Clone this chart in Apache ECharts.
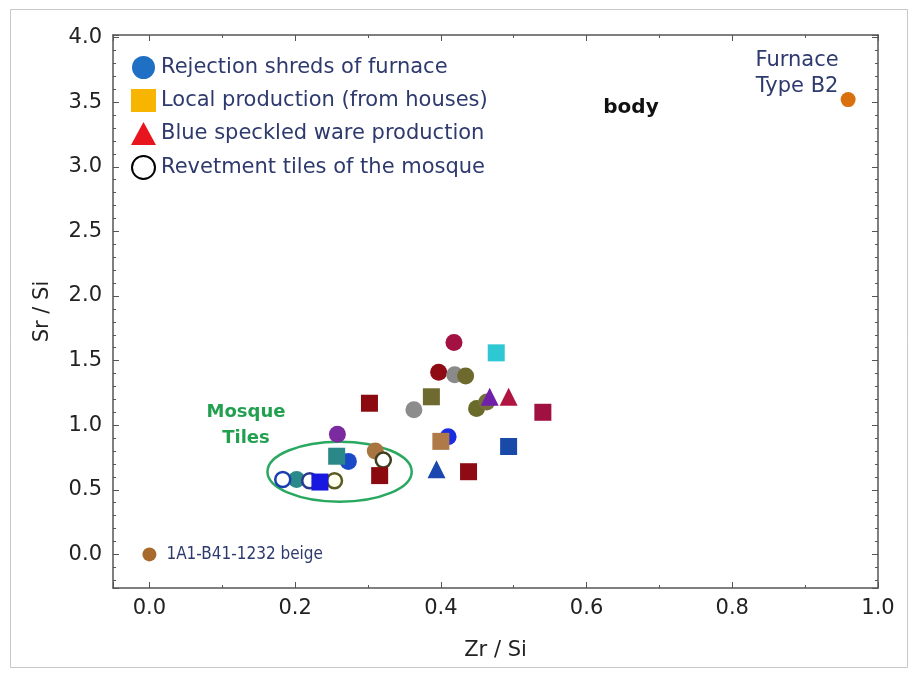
<!DOCTYPE html>
<html>
<head>
<meta charset="utf-8">
<script src="https://cdn.jsdelivr.net/npm/echarts@6/dist/echarts.min.js"></script>
<style>
html,body{margin:0;padding:0;background:#fff;}
#chart{width:911px;height:675px;}
</style>
</head>
<body>
<div id="chart"></div>
<script>
// ---------- DATA ----------
const seriesNames = ['Rejection shreds of furnace', 'Local production (from houses)', 'Blue speckled ware production', 'Revetment tiles of the mosque'];
const rejectionCircles = [[0.418,1.64],[0.397,1.41],[0.419,1.39],[0.434,1.38],[0.363,1.12],[0.449,1.13],[0.463,1.18],[0.258,0.93],[0.41,0.91],[0.273,0.72],[0.31,0.80],[0.202,0.58]];
const localSquares = [[0.476,1.56],[0.302,1.17],[0.387,1.22],[0.54,1.10],[0.40,0.875],[0.493,0.835],[0.257,0.76],[0.316,0.61],[0.438,0.64],[0.234,0.56]];
const blueSpeckledTriangles = [[0.467,1.22],[0.493,1.22],[0.394,0.66]];
const revetmentOpen = [[0.183,0.58],[0.22,0.57],[0.254,0.57],[0.321,0.73]];
const furnaceB2 = [[0.959,3.52]];
const beigeSample = [[0.0,0.0]];
const mosqueEllipse = [[0.261,0.64,0.099,0.232]]; // centre x, centre y, radius x, radius y
const xTickStep = 0.2;
const yTickStep = 0.5;

// ---------- STYLE ----------
const circleColors = ['#a31042','#8e0b15','#8a8a8a','#6e6a2e','#8c8c8c','#6a6a2a','#75703a','#7b2aa0','#1a2ee0','#1a4ac8','#a87440','#2a8a8a'];
const squareColors = ['#2dc8d2','#8a0a10','#6e6a30','#a01040','#b07a48','#1a4aa8','#2a8888','#8a0a10','#8e0a14','#1818e0'];
const triangleColors = ['#7020a8','#b01540','#1a48b0'];
const openBorderColors = ['#1a40b0','#2a3a90','#5a5a20','#404020'];
const openFillColors = ['#ffffff','#ffffff','#fffff0','#ffffff'];

const tickFont = 'DejaVu Sans';
const annFont = 'DejaVu Sans';

function withColors(arr, colors) {
  return arr.map((p, i) => ({ value: p, itemStyle: { color: colors[i] } }));
}
function withBorders(arr, borders, fills) {
  return arr.map((p, i) => ({ value: p, itemStyle: { color: fills[i], borderColor: borders[i] } }));
}
function isStep(v, step) {
  const r = v / step;
  return Math.abs(r - Math.round(r)) < 1e-6;
}

const axisLineStyle = { color: '#555', width: 1.5 };
const tickStyle = { color: '#555', width: 1 };
const chart = echarts.init(document.getElementById('chart'), null, { renderer: 'canvas' });

const option = {
  backgroundColor: '#fff',
  animation: false,
  grid: { left: 113, right: 33, top: 35, bottom: 87, containLabel: false },
  legend: {
    orient: 'vertical',
    left: 126, top: 51,
    itemWidth: 25, itemHeight: 23, itemGap: 10,
    textStyle: { fontFamily: annFont, fontSize: 21, color: '#2e3a6e' },
    data: [
      { name: seriesNames[0], icon: 'circle' },
      { name: seriesNames[1], icon: 'rect' },
      { name: seriesNames[2], icon: 'triangle' },
      { name: seriesNames[3], icon: 'circle' }
    ],
    selectedMode: false
  },
  xAxis: [
    {
      type: 'value', min: -0.05, max: 1.0, position: 'bottom', splitNumber: 5,
      name: 'Zr / Si', nameLocation: 'middle', nameGap: 52,
      nameTextStyle: { fontFamily: tickFont, fontSize: 21, color: '#222' },
      axisLine: { show: true, onZero: false, lineStyle: axisLineStyle },
      axisTick: { show: true, inside: true, length: 6, lineStyle: tickStyle },
      minorTick: { show: true, splitNumber: 2, length: 3, lineStyle: tickStyle },
      splitLine: { show: false },
      axisLabel: { fontFamily: tickFont, fontSize: 21, color: '#222', margin: 10,
        formatter: v => isStep(v, xTickStep) ? v.toFixed(1) : '' }
    },
    {
      type: 'value', min: -0.05, max: 1.0, position: 'top', splitNumber: 5,
      axisLine: { show: true, onZero: false, lineStyle: axisLineStyle },
      axisTick: { show: true, inside: true, length: 6, lineStyle: tickStyle },
      minorTick: { show: true, splitNumber: 2, length: 3, lineStyle: tickStyle },
      splitLine: { show: false },
      axisLabel: { show: false }
    }
  ],
  yAxis: [
    {
      type: 'value', min: -0.26, max: 4.02, position: 'left', splitNumber: 8,
      name: 'Sr / Si', nameLocation: 'middle', nameGap: 60, nameRotate: 90,
      nameTextStyle: { fontFamily: tickFont, fontSize: 21, color: '#222' },
      axisLine: { show: true, onZero: false, lineStyle: axisLineStyle },
      axisTick: { show: true, inside: true, length: 6, lineStyle: tickStyle },
      minorTick: { show: true, splitNumber: 5, length: 3, lineStyle: tickStyle },
      splitLine: { show: false },
      axisLabel: { fontFamily: tickFont, fontSize: 21, color: '#222', margin: 11,
        formatter: v => isStep(v, yTickStep) ? v.toFixed(1) : '' }
    },
    {
      type: 'value', min: -0.26, max: 4.02, position: 'right', splitNumber: 8,
      axisLine: { show: true, onZero: false, lineStyle: axisLineStyle },
      axisTick: { show: true, inside: true, length: 6, lineStyle: tickStyle },
      minorTick: { show: true, splitNumber: 5, length: 3, lineStyle: tickStyle },
      splitLine: { show: false },
      axisLabel: { show: false }
    }
  ],
  series: [
    {
      type: 'custom', name: 'ellipse', z: 1, silent: true,
      data: mosqueEllipse,
      renderItem: function (params, api) {
        const c = api.coord([api.value(0), api.value(1)]);
        const s = api.size([api.value(2), api.value(3)]);
        return {
          type: 'ellipse',
          shape: { cx: c[0], cy: c[1], rx: s[0], ry: s[1] },
          style: { fill: 'none', stroke: '#2aa860', lineWidth: 2.5 }
        };
      }
    },
    {
      type: 'scatter', name: seriesNames[0], symbol: 'circle', symbolSize: 17, z: 2,
      itemStyle: { color: '#1f6fc5', opacity: 1 },
      data: withColors(rejectionCircles, circleColors)
    },
    {
      type: 'scatter', name: seriesNames[3], symbol: 'circle', symbolSize: 15, z: 3,
      itemStyle: { color: '#ffffff', borderColor: '#000000', borderWidth: 2.5, opacity: 1 },
      data: withBorders(revetmentOpen, openBorderColors, openFillColors)
    },
    {
      type: 'scatter', name: seriesNames[1], symbol: 'rect', symbolSize: 17, z: 4,
      itemStyle: { color: '#f7b500', opacity: 1 },
      data: withColors(localSquares, squareColors)
    },
    {
      type: 'scatter', name: seriesNames[2], symbol: 'triangle', symbolSize: 18, z: 5,
      itemStyle: { color: '#e8141e', opacity: 1 },
      data: withColors(blueSpeckledTriangles, triangleColors)
    },
    {
      type: 'scatter', name: 'Furnace Type B2', symbol: 'circle', symbolSize: 15, z: 5,
      itemStyle: { color: '#d9700e', opacity: 1 },
      label: { show: true, position: 'inside', offset: [-51, -26], formatter: 'Furnace\nType B2',
        fontFamily: annFont, fontSize: 21, lineHeight: 26, color: '#2e3a6e', textBorderWidth: 0,
        align: 'center', verticalAlign: 'middle', opacity: 1 },
      data: furnaceB2
    },
    {
      type: 'scatter', name: '1A1-B41-1232 beige', symbol: 'circle', symbolSize: 14, z: 5,
      itemStyle: { color: '#a86a2c', opacity: 1 },
      label: { show: true, position: 'right', distance: 10, formatter: '1A1-B41-1232 beige',
        fontFamily: 'DejaVu Sans Condensed, DejaVu Sans', fontSize: 17, color: '#2e3a6e', textBorderWidth: 0, opacity: 1 },
      data: beigeSample
    }
  ],
  graphic: [
    { type: 'rect', shape: { x: 10.5, y: 9.5, width: 897, height: 658 }, style: { fill: 'none', stroke: '#c8c8c8', lineWidth: 1 }, z: -10, silent: true },
    { type: 'text', x: 631, y: 108, style: { text: 'body', font: 'bold 20px DejaVu Sans', fill: '#111', align: 'center', verticalAlign: 'middle' }, z: 10 },
    { type: 'text', x: 246, y: 425, style: { text: 'Mosque\nTiles', font: 'bold 18px DejaVu Sans', fill: '#22a050', align: 'center', verticalAlign: 'middle', lineHeight: 26 }, z: 10 }
  ]
};
chart.setOption(option);
</script>
</body>
</html>
